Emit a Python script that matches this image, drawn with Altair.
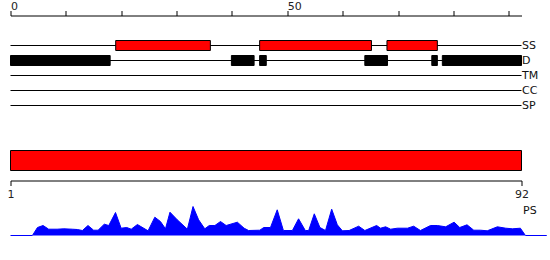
import altair as alt
import pandas as pd

# ---- data ----
tracks = ["SS", "D", "TM", "CC", "SP"]
top_ticks = [0, 10, 20, 30, 40, 50, 60, 70, 80, 90]
top_max = 92.3

ss_start = [19.0, 45.0, 68.0]
ss_end = [36.1, 65.2, 77.1]

d_start = [0.0, 39.9, 45.0, 64.0, 76.1, 78.0]
d_end = [18.0, 44.0, 46.2, 68.1, 77.1, 92.3]

seq_start = [1]
seq_end = [92]
seq_ticks = [1, 92]

ps_pos = [1.0, 4.9, 5.8, 6.8, 7.8, 9.3, 10.5, 12.0, 12.9, 13.8,
          14.8, 15.8, 16.6, 17.7, 18.5, 19.7, 20.7, 21.7, 22.5, 23.6,
          25.5, 26.7, 27.7, 28.6, 29.4, 30.7, 32.5, 33.5, 34.5, 35.6,
          36.4, 37.4, 38.4, 39.4, 41.4, 42.6, 43.4, 45.4, 46.1, 47.3,
          48.5, 49.6, 51.2, 52.3, 53.5, 54.1, 55.1, 56.1, 57.1, 58.2,
          59.2, 60.1, 61.3, 63.0, 64.1, 66.2, 66.9, 67.8, 68.7, 69.9,
          71.7, 72.8, 74.0, 75.8, 77.0, 78.5, 80.0, 81.0, 82.3, 83.5,
          84.7, 85.9, 87.7, 89.2, 90.4, 91.8, 92.7, 96.5]
ps_val = [0, 0, 8, 10, 6.3, 6.3, 6.7, 6.3, 6, 5,
          10, 5.3, 5.3, 11.3, 10, 23, 7.3, 8, 6.3, 11,
          4.7, 18.3, 14, 6.7, 23.3, 15.7, 6.3, 29, 15.7, 6.7,
          10, 10, 14, 10, 13.3, 7.3, 5, 5.3, 8, 8,
          25.7, 5, 5, 16.7, 5, 5, 21.7, 8, 5, 26.3,
          10.7, 4.7, 5, 9.3, 5, 10, 7.3, 8.7, 6.3, 7.3,
          7.3, 9.3, 5, 10, 10, 8.7, 13.3, 8, 10.7, 5.3,
          5.3, 4.7, 8.7, 7.3, 6.7, 7.3, 0, 0]

FONT = "DejaVu Sans"
RED = "#ff0000"
BLUE = "#0000ff"

# ---- tables ----
track_df = pd.DataFrame({"track": tracks, "start": [0.0] * len(tracks),
                         "end": [top_max] * len(tracks)})
ss_df = pd.DataFrame({"track": ["SS"] * len(ss_start), "start": ss_start, "end": ss_end})
d_df = pd.DataFrame({"track": ["D"] * len(d_start), "start": d_start, "end": d_end})
seq_df = pd.DataFrame({"start": seq_start, "end": seq_end})
ps_df = pd.DataFrame({"pos": ps_pos, "val": ps_val})

x_top = alt.Scale(domain=[0, top_max], nice=False, zero=False)
y_tr = alt.Scale(domain=tracks, paddingInner=0, paddingOuter=0)

top_axis = alt.Axis(orient="top", values=top_ticks, title=None, offset=22.5,
                    labelExpr="datum.value % 50 == 0 ? datum.label : ''",
                    labelAlign="left", labelBaseline="alphabetic",
                    labelPadding=1, tickSize=5, labelFlush=False,
                    labelOverlap=False, grid=False)
right_axis = alt.Axis(orient="right", domain=False, ticks=False, title=None,
                      labelPadding=0, labelAlign="left", labelBaseline="middle",
                      labelColor="#111", grid=False)

rules = alt.Chart(track_df).mark_rule(color="black", strokeWidth=1).encode(
    x=alt.X("start:Q", scale=x_top, axis=top_axis),
    x2="end:Q",
    y=alt.Y("track:N", scale=y_tr, sort=tracks, axis=right_axis, bandPosition=0.5),
)
ss_bars = alt.Chart(ss_df).mark_bar(size=10, color=RED, stroke="black", strokeWidth=1).encode(
    x=alt.X("start:Q", scale=x_top),
    x2="end:Q",
    y=alt.Y("track:N", scale=y_tr, sort=tracks),
)
d_bars = alt.Chart(d_df).mark_bar(size=10, color="black", stroke="black", strokeWidth=1).encode(
    x=alt.X("start:Q", scale=x_top),
    x2="end:Q",
    y=alt.Y("track:N", scale=y_tr, sort=tracks),
)
panel_a = alt.layer(rules, ss_bars, d_bars).properties(width=511, height=75)

x_seq = alt.Scale(domain=[1, 92], nice=False, zero=False)
seq_axis = alt.Axis(values=seq_ticks, title=None, offset=10, tickSize=5,
                    labelPadding=3, labelFlush=False, labelAlign="center",
                    labelOverlap=False, grid=False)
panel_b = alt.Chart(seq_df).mark_rect(color=RED, stroke="black", strokeWidth=1).encode(
    x=alt.X("start:Q", scale=x_seq, axis=seq_axis),
    x2="end:Q",
).properties(width=511, height=20)

panel_c = alt.Chart(ps_df).mark_area(color=BLUE, opacity=1, fillOpacity=1,
                                     line={"color": BLUE, "strokeWidth": 1}).encode(
    x=alt.X("pos:Q", scale=x_seq, axis=None),
    y=alt.Y("val:Q", scale=alt.Scale(domain=[0, 30], nice=False, zero=True),
            axis=alt.Axis(orient="right", domain=False, ticks=False, labels=False,
                          grid=False, title="PS", titleAngle=0, titleAlign="left",
                          titleBaseline="middle", titleX=1, titleY=5,
                          titleFontWeight="normal", titleFont=FONT,
                          titleFontSize=11, titleColor="#111")),
).properties(width=511, height=30)

chart = alt.vconcat(
    panel_a,
    alt.vconcat(panel_b, panel_c, spacing=4),
    spacing=36.5,
).properties(
    padding={"left": 6.5, "top": 0, "right": 0, "bottom": 0}
).configure_view(stroke=None).configure_axis(
    labelFont=FONT, labelFontSize=11, labelColor="#222",
    domainColor="black", tickColor="black", domainWidth=1, tickWidth=1,
)

chart.save("out.html", embed_options={"renderer": "svg", "actions": False})
